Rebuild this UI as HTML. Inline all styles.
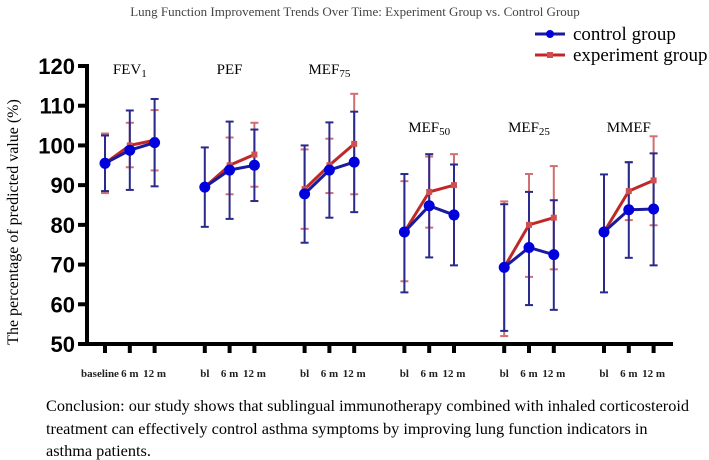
<!DOCTYPE html>
<html><head><meta charset="utf-8"><style>
body{margin:0;background:#fff;width:709px;height:460px;overflow:hidden}
svg{display:block;font-family:"Liberation Serif",serif}
</style></head><body>
<svg id="c" width="709" height="460">
<text x="355" y="16" text-anchor="middle" font-size="13" fill="#444">Lung Function Improvement Trends Over Time: Experiment Group vs. Control Group</text>
<g>
<line x1="535" y1="34" x2="565" y2="34" stroke="#1a1a9c" stroke-width="3"/><circle cx="550" cy="34" r="4" fill="#0000dd"/>
<text x="573" y="40" font-size="19">control group</text>
<line x1="535" y1="55" x2="565" y2="55" stroke="#c02828" stroke-width="3"/><rect x="547" y="52" width="6" height="6" fill="#d05050"/>
<text x="573" y="61" font-size="19">experiment group</text>
</g>
<text transform="translate(18,222) rotate(-90)" text-anchor="middle" font-size="16">The percentage of predicted value (%)</text>
<g id="plot"></g>
<g font-size="16.3">
<text x="46" y="411">Conclusion: our study shows that sublingual immunotherapy combined with inhaled corticosteroid</text>
<text x="46" y="434">treatment can effectively control asthma symptoms by improving lung function indicators in</text>
<text x="46" y="456">asthma patients.</text>
</g>
</svg>
<script>
const groups=["FEV","PEF","MEF","MEF","MEF","MMEF"];
const groupSubs=["1","","75","50","25",""];
const timeLabels=[["baseline","6 m","12 m"],["bl","6 m","12 m"],["bl","6 m","12 m"],["bl","6 m","12 m"],["bl","6 m","12 m"],["bl","6 m","12 m"]];
const yTicks=[50,60,70,80,90,100,110,120];
const ctrlMean=[[95.5,98.8,100.7],[89.5,93.8,95],[87.8,93.8,95.8],[78.2,84.8,82.5],[69.3,74.3,72.5],[78.2,83.8,84]];
const ctrlLo=[[88.5,88.8,89.7],[79.5,81.5,86],[75.5,81.8,83.2],[63,71.8,69.8],[53.3,59.8,58.6],[63,71.7,69.8]];
const ctrlHi=[[102.5,108.8,111.7],[99.5,106,104],[100,105.8,108.5],[92.8,97.8,95.2],[85.2,88.3,86.2],[92.7,95.8,98]];
const expMean=[[95.5,100,101.3],[89.5,95,97.7],[89,95,100.4],[78.2,88.3,90],[69.3,80,81.8],[78.2,88.5,91.2]];
const expLo=[[88,94.5,93.7],[89.5,87.7,89.6],[79,88,87.7],[65.8,79.3,81.6],[52,66.9,68.8],[78.2,81.2,79.9]];
const expHi=[[103,105.7,108.9],[89.5,102,105.7],[99,101.7,113],[91,97.2,97.8],[85.9,92.8,94.8],[78.2,95.7,102.3]];
const NS="http://www.w3.org/2000/svg";
const g=document.getElementById('plot');
const y=v=>344-(v-50)*(278/70);
const x=(gi,ti)=>105+gi*99.8+ti*24.8;
function el(t,a,p){const e=document.createElementNS(NS,t);for(const k in a)e.setAttribute(k,a[k]);(p||g).appendChild(e);return e;}
let ya=el('line',{x1:87,y1:64,x2:87,y2:346,stroke:'#000','stroke-width':4});


let xa=el('line',{x1:85,y1:344,x2:673,y2:344,stroke:'#000','stroke-width':4});


yTicks.forEach(t=>{el('line',{x1:78,y1:y(t),x2:87,y2:y(t),stroke:'#000','stroke-width':4});
const tx=el('text',{x:75,y:y(t)+8,'text-anchor':'end','font-size':22,'font-weight':'bold','font-family':'Liberation Sans,sans-serif'});tx.textContent=t;

});
groups.forEach((n,gi)=>{
 const lt=el('text',{x:x(gi,1),y:[74,74,74,132,132,132][gi],'text-anchor':'middle','font-size':15});
 
 
 lt.textContent=n;
 if(groupSubs[gi]){const s=el('tspan',{'font-size':11,dy:3},lt);s.textContent=groupSubs[gi];}
 for(let ti=0;ti<3;ti++){
  el('line',{x1:x(gi,ti),y1:344,x2:x(gi,ti),y2:353,stroke:'#000','stroke-width':4});
  const tl=el('text',{x:x(gi,ti)-(gi===0&&ti===0?5:0),y:377,'text-anchor':'middle','font-size':11,'font-weight':'bold',fill:'#222'});tl.textContent=timeLabels[gi][ti];
  
  
 }
 for(let ti=0;ti<3;ti++){const cx=x(gi,ti);
  [[expLo,expHi,'#d07070'],[ctrlLo,ctrlHi,'#2a2a8c']].forEach(([lo,hi,c])=>{
   const a=y(lo[gi][ti]),b=y(hi[gi][ti]);
   el('line',{x1:cx,y1:a,x2:cx,y2:b,stroke:c,'stroke-width':2});
   el('line',{x1:cx-4,y1:a,x2:cx+4,y2:a,stroke:c,'stroke-width':2});
   el('line',{x1:cx-4,y1:b,x2:cx+4,y2:b,stroke:c,'stroke-width':2});
  });
 }
 const pe=el('polyline',{points:expMean[gi].map((v,ti)=>x(gi,ti)+','+y(v)).join(' '),fill:'none',stroke:'#c02828','stroke-width':3});
 
 
 expMean[gi].forEach((v,ti)=>{const r=el('rect',{x:x(gi,ti)-3,y:y(v)-3,width:6,height:6,fill:'#d05050'});
  
  });
 const pc=el('polyline',{points:ctrlMean[gi].map((v,ti)=>x(gi,ti)+','+y(v)).join(' '),fill:'none',stroke:'#1a1a9c','stroke-width':3});
 
 
 ctrlMean[gi].forEach((v,ti)=>{const c=el('circle',{cx:x(gi,ti),cy:y(v),r:5.5,fill:'#0000dd'});
  
  });
});
</script>
</body></html>
